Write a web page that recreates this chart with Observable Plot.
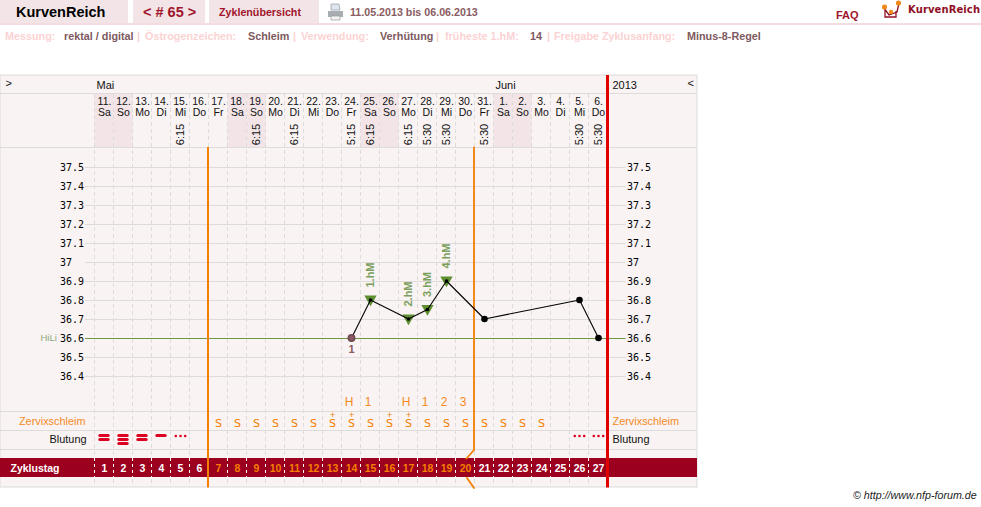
<!DOCTYPE html>
<html lang="de">
<head>
<meta charset="utf-8">
<title>KurvenReich</title>
<script src="https://cdn.jsdelivr.net/npm/d3@7"></script>
<script src="https://cdn.jsdelivr.net/npm/@observablehq/plot@0.6"></script>
<style>
  html, body { margin: 0; padding: 0; background: #fff; width: 981px; height: 507px; overflow: hidden; }
  body { position: relative; font-family: "Liberation Sans", Arial, sans-serif; }
  .abs { position: absolute; white-space: nowrap; }
  .box { position: absolute; top: 0; height: 23px; background: #f3e5e7; }
  #chart { position: absolute; left: 0; top: 75px; }
  #chart svg { display: block; }
</style>
</head>
<body>
<script>
// ---------- data ----------
const dayNumbers = ["11.","12.","13.","14.","15.","16.","17.","18.","19.","20.","21.","22.","23.","24.","25.","26.","27.","28.","29.","30.","31.","1.","2.","3.","4.","5.","6."];
const weekdays = ["Sa","So","Mo","Di","Mi","Do","Fr","Sa","So","Mo","Di","Mi","Do","Fr","Sa","So","Mo","Di","Mi","Do","Fr","Sa","So","Mo","Di","Mi","Do"];
const cycleDays = d3.range(1, 28);
const timeDays = [5, 9, 11, 14, 15, 17, 18, 19, 21, 26, 27];
const timeLabels = ["6:15","6:15","6:15","5:15","6:15","6:15","5:30","5:30","5:30","5:30","5:30"];
const tempDays = [14, 15, 17, 18, 19, 21, 26, 27];
const tempValues = [36.6, 36.8, 36.7, 36.75, 36.9, 36.7, 36.8, 36.6];
const highDays = [15, 17, 18, 19];
const highLabels = ["1.hM", "2.hM", "3.hM", "4.hM"];
const tempTicks = [37.5, 37.4, 37.3, 37.2, 37.1, 37, 36.9, 36.8, 36.7, 36.6, 36.5, 36.4];
const coverLine = 36.6;
const peakDays = [14, 15, 17, 18, 19, 20];
const peakLabels = ["H", "1", "H", "1", "2", "3"];
const mucusDays = d3.range(7, 25);
const mucusPlusDays = [13, 14, 16, 17];
const bleedDays = [1, 2, 3, 4];
const bleedBars = [2, 3, 2, 1];
const spottingDays = [5, 26, 27];
const fertileStart = 6.5;
const fertileEnd = 20.5;
const cycleEnd = 27.5;

const infoLabels = [
  ["Messung:", 5, 0], ["rektal / digital", 64, 1], ["|", 137, 0],
  ["Östrogenzeichen:", 145, 0], ["Schleim", 248, 1], ["|", 293, 0],
  ["Verwendung:", 301, 0], ["Verhütung", 380, 1], ["|", 436, 0],
  ["früheste 1.hM:", 445, 0], ["14", 530, 1], ["|", 547, 0],
  ["Freigabe Zyklusanfang:", 554, 0], ["Minus-8-Regel", 687, 1]
];

// ---------- page header ----------
function el(cls, css, text) {
  const e = document.createElement("div");
  e.className = cls;
  e.style.cssText = css;
  if (text != null) e.textContent = text;
  document.body.appendChild(e);
  return e;
}
el("box", "left:0;width:128px");
el("box", "left:133px;width:72px");
el("box", "left:209px;width:110px");
el("abs", "left:0;top:23px;width:981px;height:2px;background:#f3dde0");
el("abs", "left:16px;top:4px;font:bold 14.5px 'Liberation Sans';color:#000", "KurvenReich");
el("abs", "left:143px;top:4px;font:bold 14.5px 'Liberation Sans';color:#a0142c", "< # 65 >");
el("abs", "left:219px;top:6px;font:bold 10.7px 'Liberation Sans';color:#a0142c", "Zyklenübersicht");
el("abs", "left:350px;top:6px;font:bold 10.7px 'Liberation Sans';color:#8a5a62", "11.05.2013 bis 06.06.2013");
el("abs", "left:836px;top:9px;font:bold 11px 'Liberation Sans';color:#a0142c", "FAQ");
el("abs", "left:908px;top:4px;font:bold 10px 'DejaVu Sans';color:#8f0f25;letter-spacing:.1px", "KurvenReich");
el("abs", "left:327px;top:3px", null).innerHTML =
  `<svg width="17" height="18"><path d="M4 1h8l1 6H4z" fill="#dfe6ee" stroke="#9aa3ac" stroke-width=".8"/><path d="M1 8h15v6H1z" fill="#a9adb2"/><path d="M4 13h9v4H4z" fill="#f4f4f4" stroke="#999" stroke-width=".7"/></svg>`;
el("abs", "left:881px;top:0", null).innerHTML =
  `<svg width="22" height="20"><path d="M3 8l5 7 8-3 2-9M4 8v9h11V11" fill="none" stroke="#8f0f25" stroke-width="1.3"/><circle cx="3.500" cy="7" r="2.600" fill="#f08a1d"/><circle cx="10" cy="12" r="2.200" fill="#f08a1d"/><circle cx="17.500" cy="3" r="2.600" fill="#f08a1d"/></svg>`;
for (const [t, x, strong] of infoLabels) {
  el("abs", `left:${x}px;top:30px;font:bold 10.8px 'Liberation Sans';color:${strong ? "#7d5a60" : "#fbd3d3"}`, t);
}
el("abs", "left:853px;top:489px;font:italic 10.700px 'Liberation Sans';color:#222", "© http://www.nfp-forum.de");

// ---------- scale helpers (page pixels of the layout -> scale units) ----------
const CHART_TOP = 75, H = 415;
const xOf = (p) => 1 + (p - 104) / 19;
const yOf = (p) => 36.6 + (338 - p) / 190;
const sans = "Liberation Sans";
const mono = "DejaVu Sans Mono";
const GRID = "#dedbdb";

const rows = [93, 147, 411, 430, 449];
const columnEdges = d3.range(0.5, 27.5, 1);
const allDays = cycleDays.map((d, i) => ({d, num: dayNumbers[i], wd: weekdays[i]}));
const weekend = allDays.filter(r => r.wd === "Sa" || r.wd === "So");
const temps = tempDays.map((d, i) => ({d, v: tempValues[i]}));
const highs = highDays.map((d, i) => ({d, v: tempValues[tempDays.indexOf(d)], label: highLabels[i]}));
const times = timeDays.map((d, i) => ({d, t: timeLabels[i]}));
const peaks = peakDays.map((d, i) => ({d, t: peakLabels[i]}));
const bars = bleedDays.flatMap((d, i) => d3.range(bleedBars[i]).map(k => ({d, k})));
const endLine = [
  {d: fertileEnd, p: 147, s: 0}, {d: fertileEnd, p: 449.5, s: 0}, {d: xOf(467), p: 458, s: 0},
  {d: xOf(467.5), p: 477.5, s: 1}, {d: fertileEnd, p: 487.5, s: 1}
];

const dayText = (data, text, p, opts = {}) => Plot.text(data, {
  x: "d", y: () => yOf(p), text, fontFamily: sans, fontSize: 11, ...opts
});

const chart = Plot.plot({
  width: 981, height: H,
  marginTop: 0, marginBottom: 0, marginLeft: 0, marginRight: 0,
  x: {domain: [xOf(0), xOf(981)], range: [0, 981], axis: null},
  y: {domain: [yOf(CHART_TOP + H), yOf(CHART_TOP)], range: [H, 0], axis: null},
  style: {background: "transparent", overflow: "visible"},
  marks: [
    // panel and weekend shading
    Plot.rect([0], {x1: xOf(0), x2: xOf(697), y1: yOf(75), y2: yOf(487), fill: "#f9f3f3", stroke: GRID, strokeWidth: 1}),
    Plot.rect(weekend, {x1: d => d.d - 0.5, x2: d => d.d + 0.5, y1: yOf(93), y2: yOf(147), fill: "#f3e5e7"}),
    // dashed day columns
    Plot.ruleX(columnEdges, {x: d => d, y1: yOf(94), y2: yOf(487), stroke: GRID, strokeDasharray: "4,3", dx: -0.5}),
    // row lines
    Plot.ruleY(rows, {y: d => yOf(d), x1: xOf(0), x2: xOf(697), stroke: GRID, strokeWidth: 1}),
    // temperature grid
    Plot.ruleY(tempTicks, {y: d => d, x1: xOf(85), x2: xOf(625.5), stroke: GRID}),
    Plot.ruleY([coverLine], {x1: xOf(85), x2: xOf(625.5), stroke: "#6f9a45"}),
    // temperature tick labels (left and right)
    Plot.text(tempTicks, {x: () => xOf(59.5), y: d => d, text: d => String(d), textAnchor: "start", fontFamily: mono, fontSize: 10, fill: "#000", dy: 0.5}),
    Plot.text(tempTicks, {x: () => xOf(626.5), y: d => d, text: d => String(d), textAnchor: "start", fontFamily: mono, fontSize: 10, fill: "#000", dy: 0.5}),
    Plot.text(["HiLi"], {x: () => xOf(40), y: () => coverLine, text: d => d, textAnchor: "start", fontFamily: sans, fontSize: 9.5, fill: "#8aa878", dy: -1}),
    // month row
    Plot.text(["Mai"], {x: () => xOf(96), y: () => yOf(85), text: d => d, textAnchor: "start", fontFamily: sans, fontSize: 11, fill: "#111", letterSpacing: "-0.3"}),
    Plot.text(["Juni"], {x: () => xOf(495), y: () => yOf(85), text: d => d, textAnchor: "start", fontFamily: sans, fontSize: 11, fill: "#111", letterSpacing: "-0.3"}),
    Plot.text(["2013"], {x: () => xOf(612), y: () => yOf(85), text: d => d, textAnchor: "start", fontFamily: sans, fontSize: 11, fill: "#111", letterSpacing: "-0.3"}),
    Plot.text([">"], {x: () => xOf(5), y: () => yOf(83), text: d => d, textAnchor: "start", fontFamily: sans, fontSize: 11, fill: "#111"}),
    Plot.text(["<"], {x: () => xOf(687), y: () => yOf(83), text: d => d, textAnchor: "start", fontFamily: sans, fontSize: 11, fill: "#111"}),
    // day header
    dayText(allDays, "num", 101, {fill: "#111", fontSize: 10.5, letterSpacing: "-0.8"}),
    dayText(allDays, "wd", 112, {fill: "#111", fontSize: 10.5, letterSpacing: "-0.8"}),
    Plot.text(times, {x: "d", y: () => yOf(134), text: "t", rotate: -90, fontFamily: sans, fontSize: 11, fill: "#111"}),
    // row labels
    Plot.text(["Zervixschleim"], {x: () => xOf(85), y: () => yOf(420.5), text: d => d, textAnchor: "end", fontFamily: sans, fontSize: 10.9, fill: "#f58a1f"}),
    Plot.text(["Blutung"], {x: () => xOf(86), y: () => yOf(439), text: d => d, textAnchor: "end", fontFamily: sans, fontSize: 10.9, fill: "#111"}),
    Plot.text(["Zervixschleim"], {x: () => xOf(612), y: () => yOf(420.5), text: d => d, textAnchor: "start", fontFamily: sans, fontSize: 10.9, fill: "#f58a1f"}),
    Plot.text(["Blutung"], {x: () => xOf(612), y: () => yOf(439), text: d => d, textAnchor: "start", fontFamily: sans, fontSize: 10.9, fill: "#111"}),
    // peak and mucus rows
    dayText(peaks, "t", 402, {fill: "#f58a1f", fontSize: 12, dx: -2.5}),
    Plot.text(mucusDays, {x: d => d, y: () => yOf(423), text: () => "S", fontFamily: "DejaVu Sans", fontSize: 11, fill: "#f57f00"}),
    Plot.text(mucusPlusDays, {x: d => d, y: () => yOf(415), text: () => "+", fontFamily: sans, fontSize: 9, fill: "#f57f00"}),
    // bleeding
    Plot.ruleY(bars, {y: d => yOf(435.5 + d.k * 4), x1: d => d.d - 0.22, x2: d => d.d + 0.22, stroke: "#dd0020", strokeWidth: 3, strokeLinecap: "round", dy: -0.5}),
    ...[-4.7, 0, 4.7].map(dx => Plot.dot(spottingDays, {x: d => d, y: () => yOf(435.5), r: 1.3, fill: "#dd0020", dx})),
    // cycle day band
    Plot.rect([0], {x1: xOf(0), x2: xOf(697), y1: yOf(458), y2: yOf(477), fill: "#9c001f"}),
    Plot.ruleX(columnEdges, {x: d => d, y1: yOf(458), y2: yOf(477), stroke: "#fff", strokeDasharray: "3,3", dx: -0.5}),
    Plot.text(["Zyklustag"], {x: () => xOf(10), y: () => yOf(468), text: d => d, textAnchor: "start", fontFamily: sans, fontWeight: "bold", fontSize: 10.5, fill: "#fff"}),
    Plot.text(cycleDays, {x: d => d, y: () => yOf(468.5), text: d => String(d), fontFamily: sans, fontWeight: "bold", fontSize: 10.5, letterSpacing: "-0.5",
      fill: d => (d > fertileStart && d < fertileEnd) ? "#f57f00" : "#fff"}),
    // vertical markers
    Plot.ruleX([fertileStart], {x: d => d, y1: yOf(147), y2: yOf(487.5), stroke: "#f57f00", strokeWidth: 2, dx: -1}),
    Plot.line(endLine, {x: "d", y: d => yOf(d.p), z: "s", stroke: "#f57f00", strokeWidth: 1.8, dx: -1}),
    Plot.ruleX([cycleEnd], {x: d => d, y1: yOf(75), y2: yOf(487.5), stroke: "#e00000", strokeWidth: 3, dx: -0.5}),
    // temperature curve
    Plot.dot(highs, {x: "d", y: "v", symbol: "triangle", rotate: 180, r: 4.6, fill: "#5e8f30", dy: -1.5}),
    Plot.line(temps, {x: "d", y: "v", stroke: "#000", strokeWidth: 1.1, dy: -0.5}),
    Plot.dot(temps.filter(t => !highDays.includes(t.d) && t.d !== 14), {x: "d", y: "v", r: 3.3, fill: "#000", dy: -0.5}),
    Plot.dot(highs, {x: "d", y: "v", r: 1.8, fill: "#000", dy: -0.5}),
    Plot.dot(temps.filter(t => t.d === 14), {x: "d", y: "v", r: 3.2, fill: "#8a5a62", stroke: "#6e4a50", dy: -0.5}),
    Plot.text(["1"], {x: () => 14, y: () => yOf(349), text: d => d, fontFamily: sans, fontWeight: "bold", fontSize: 11, fill: "#8a5a62"}),
    Plot.text(highs, {x: "d", y: "v", text: "label", rotate: -90, dy: -25.5, fontFamily: sans, fontWeight: "bold", fontSize: 11, fill: "#7aa05c"})
  ]
});
const holder = document.createElement("div");
holder.id = "chart";
holder.appendChild(chart);
document.body.appendChild(holder);
</script>
</body>
</html>
